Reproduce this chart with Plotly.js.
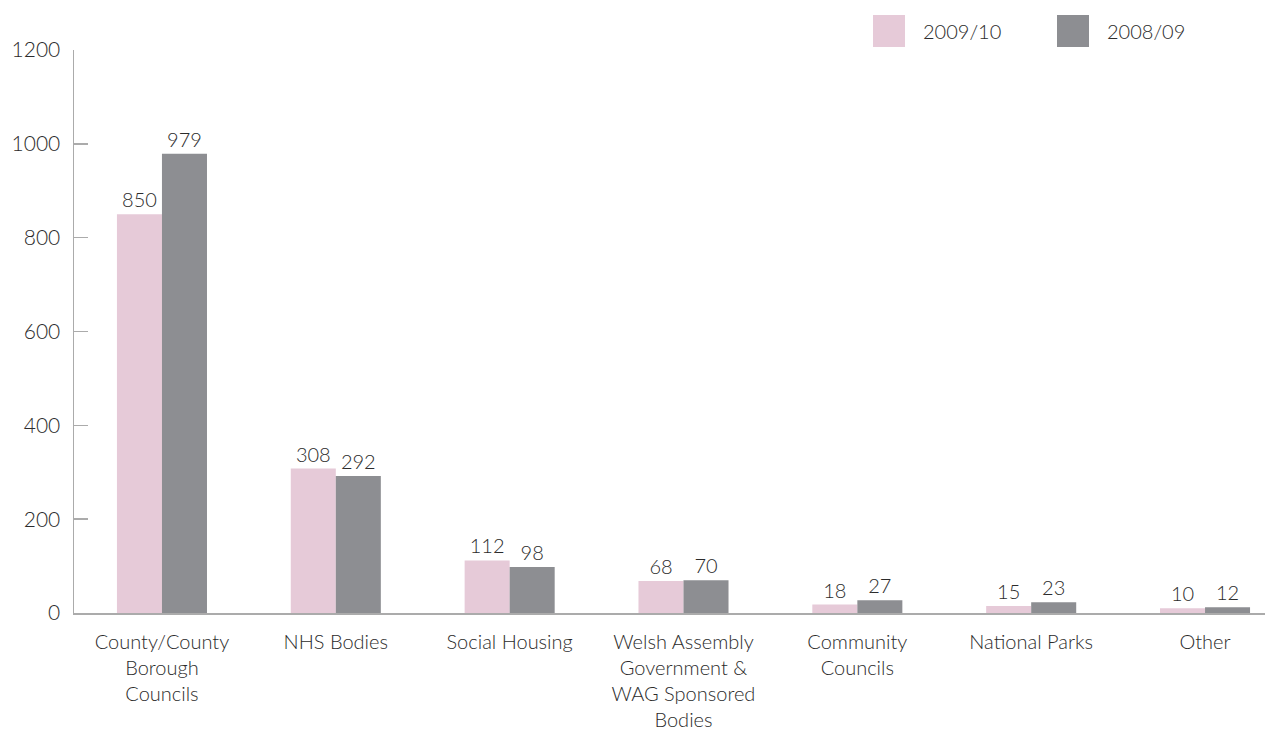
<!DOCTYPE html>
<html>
<head>
<meta charset="utf-8">
<script src="https://cdn.plot.ly/plotly-3.0.1.min.js"></script>
<style>html,body{margin:0;padding:0;background:#fff;}#chart{width:1265px;height:747px;}</style>
</head>
<body>
<div id="chart"></div>
<script>
const categories = [
  "County/County<br>Borough<br>Councils",
  "NHS Bodies",
  "Social Housing",
  "Welsh Assembly<br>Government &<br>WAG Sponsored<br>Bodies",
  "Community<br>Councils",
  "National Parks",
  "Other"
];
const seriesNames = ["2009/10", "2008/09"];
const values2009_10 = [850, 308, 112, 68, 18, 15, 10];
const values2008_09 = [979, 292, 98, 70, 27, 23, 12];
const yTicks = [0, 200, 400, 600, 800, 1000, 1200];

const colors = ["#E6CAD8", "#8D8E92"];
const font = "Lato, 'Open Sans', sans-serif";
const textColor = "#2b2b2b";
const W = 300;

const traces = [values2009_10, values2008_09].map((vals, i) => ({
  type: "bar",
  name: seriesNames[i],
  x: categories,
  y: vals,
  marker: { color: colors[i] },
  text: vals.map(String),
  textposition: "outside",
  cliponaxis: false,
  textfont: { family: font, size: 20, color: textColor, weight: W },
  hoverinfo: "x+y"
}));

const legendShapes = [];
const legendAnn = [];
const legendX = [873, 1057];
seriesNames.forEach((n, i) => {
  legendShapes.push({
    type: "rect", xref: "paper", yref: "paper",
    x0: (legendX[i] - 74) / 1191, x1: (legendX[i] + 32 - 74) / 1191,
    y0: 1 + (50 - 47) / 563, y1: 1 + (50 - 15) / 563,
    fillcolor: colors[i], line: { width: 0 }
  });
  legendAnn.push({
    xref: "paper", yref: "paper",
    x: (legendX[i] + 48 - 74) / 1191, y: 1 + (50 - 31) / 563,
    xanchor: "left", yanchor: "middle", showarrow: false,
    text: n, font: { family: font, size: 20, color: textColor, weight: W }
  });
});

const layout = {
  width: 1265, height: 747,
  margin: { l: 74, r: 0, t: 50, b: 134 },
  paper_bgcolor: "#ffffff", plot_bgcolor: "#ffffff",
  font: { family: font, color: textColor, size: 20, weight: W },
  showlegend: false,
  barmode: "group",
  bargap: 0.482,
  bargroupgap: 0,
  xaxis: {
    type: "category",
    range: [-0.506, 6.345],
    showline: true, linecolor: "#ABABAB", linewidth: 1.5,
    ticks: "", showgrid: false, zeroline: false,
    ticklabelstandoff: 10,
    tickfont: { family: font, size: 20, color: textColor, weight: W },
    fixedrange: true
  },
  yaxis: {
    range: [0, 1200],
    tickvals: yTicks, ticktext: yTicks.map(String),
    showline: true, linecolor: "#ABABAB", linewidth: 1.5,
    ticks: "inside", ticklen: 14, tickcolor: "#ABABAB", tickwidth: 1.5,
    ticklabelstandoff: 8,
    showgrid: false, zeroline: false,
    tickfont: { family: font, size: 21, color: textColor, weight: W },
    fixedrange: true
  },
  shapes: legendShapes,
  annotations: legendAnn
};

Plotly.newPlot("chart", traces, layout, { displayModeBar: false, staticPlot: true });
</script>
</body>
</html>
